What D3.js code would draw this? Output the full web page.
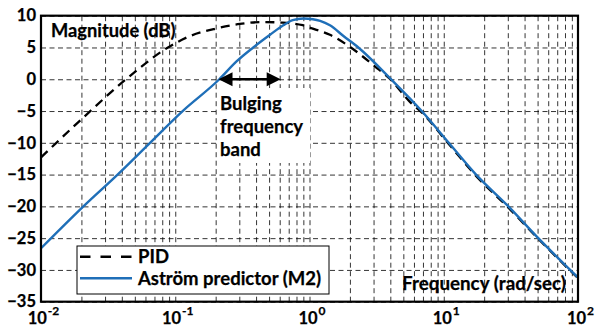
<!DOCTYPE html>
<html>
<head>
<meta charset="utf-8">
<script src="https://cdn.jsdelivr.net/npm/d3@7/dist/d3.min.js"></script>
<style>
  body { margin: 0; background: #fff; }
  svg { display: block; }
  text { font-family: Lato, "Open Sans", sans-serif; font-weight: bold; fill: #000; stroke: #000; stroke-width: 0.25px; }
</style>
</head>
<body>
<svg id="chart" width="600" height="327"></svg>
<script>
// axis ticks
const yTicks = [10, 5, 0, -5, -10, -15, -20, -25, -30, -35];
const xDecades = [0.01, 0.1, 1, 10, 100];
const xExponents = ['-2', '-1', '0', '1', '2'];

// PID (dashed)
const pidFreq = [0.01, 0.02, 0.043, 0.0883, 0.129, 0.204, 0.303, 0.45, 0.63, 0.89, 1.01, 1.42, 2.0, 3.08, 4.0, 5.62, 6.85, 10.9, 17.4, 30.3, 50.6, 100];
const pidMag  = [-12.3, -6.3, 0, 5, 6.8, 8.0, 8.7, 9.0, 8.9, 8.5, 8.1, 7.0, 5.1, 2.0, 0, -3.6, -5.2, -10.2, -15.2, -20.2, -25.1, -31.3];

// Astrom predictor (M2)
const m2Freq = [0.01, 0.0207, 0.0372, 0.0649, 0.1135, 0.213, 0.286, 0.381, 0.508, 0.638, 0.75, 0.9, 1.06, 1.2, 1.42, 1.79, 2.31, 4.05, 6.85, 10.9, 17.4, 30.3, 50.6, 100];
const m2Mag  = [-26.6, -20, -15, -10, -5, 0, 2.8, 5, 7, 8.5, 9.3, 9.55, 9.45, 9.2, 8.5, 6.8, 5, 0, -5, -10, -15, -20, -25, -31.2];

const legendLabels = ['PID', 'Aström predictor (M2)'];
const bandLines = ['Bulging', 'frequency', 'band'];
const bandRange = [0.21, 0.61]; // rad/sec, arrow at 0 dB

const svg = d3.select('#chart');
const pLeft = 41, pRight = 578, pTop = 15.7, pBottom = 301.7;

const x = d3.scaleLog().domain([0.01, 100]).range([pLeft, pRight]);
const y = d3.scaleLinear().domain([-35, 10]).range([pBottom, pTop]);

svg.append('rect').attr('width', 600).attr('height', 327).attr('fill', '#fff');

// grid
const grid = svg.append('g');
grid.append('g')
  .attr('transform', `translate(0,${pBottom})`)
  .call(d3.axisBottom(x).tickValues(x.ticks()).tickSize(-(pBottom - pTop)).tickFormat(''))
  .call(g => g.select('.domain').remove());
grid.append('g')
  .attr('transform', `translate(${pLeft},0)`)
  .call(d3.axisLeft(y).tickValues(yTicks).tickSize(-(pRight - pLeft)).tickFormat(''))
  .call(g => g.select('.domain').remove());
grid.selectAll('line')
  .attr('stroke', '#000')
  .attr('stroke-width', 0.8)
  .attr('stroke-dasharray', '5,3.5');

// annotation box behind text
svg.append('rect')
  .attr('x', 217).attr('y', 88)
  .attr('width', 93).attr('height', 75)
  .attr('fill', '#fff');

svg.selectAll('.band')
  .data(bandLines)
  .join('text')
  .attr('class', 'band')
  .attr('x', 220)
  .attr('y', (d, i) => 110 + i * 23)
  .style('font-size', '18.5px')
  .text(d => d);

// curves
const line = d3.line()
  .x(d => x(d[0]))
  .y(d => y(d[1]))
  .curve(d3.curveMonotoneX);

svg.append('path')
  .datum(pidFreq.map((f, i) => [f, pidMag[i]]))
  .attr('d', line)
  .attr('fill', 'none')
  .attr('stroke', '#000')
  .attr('stroke-width', 2.3)
  .attr('stroke-dasharray', '9,6');

svg.append('path')
  .datum(m2Freq.map((f, i) => [f, m2Mag[i]]))
  .attr('d', line)
  .attr('fill', 'none')
  .attr('stroke', '#1f6fb8')
  .attr('stroke-width', 2.4);

// double arrow
const ax0 = x(bandRange[0]), ax1 = x(bandRange[1]), ay = y(0);
svg.append('line')
  .attr('x1', ax0 + 10).attr('x2', ax1 - 10)
  .attr('y1', ay).attr('y2', ay)
  .attr('stroke', '#000').attr('stroke-width', 2.5);
svg.append('path')
  .attr('d', `M${ax0},${ay}L${ax0 + 14},${ay - 7}L${ax0 + 14},${ay + 7}Z M${ax1},${ay}L${ax1 - 14},${ay - 7}L${ax1 - 14},${ay + 7}Z`)
  .attr('fill', '#000');

// legend
const lg = svg.append('g');
lg.append('rect')
  .attr('x', 77).attr('y', 246)
  .attr('width', 252).attr('height', 48)
  .attr('fill', '#fff').attr('stroke', '#000').attr('stroke-width', 1);
legendLabels.forEach((lab, i) => {
  const ly = 256.7 + i * 21.6;
  lg.append('line')
    .attr('x1', 80).attr('x2', 132)
    .attr('y1', ly).attr('y2', ly)
    .attr('stroke', i === 0 ? '#000' : '#1f6fb8')
    .attr('stroke-width', 2.4)
    .attr('stroke-dasharray', i === 0 ? '10.5,10' : null);
  lg.append('text')
    .attr('x', 138).attr('y', ly + 6.3)
    .style('font-size', '18.5px')
    .text(lab);
});

// frame
svg.append('rect')
  .attr('x', pLeft).attr('y', pTop)
  .attr('width', pRight - pLeft).attr('height', pBottom - pTop)
  .attr('fill', 'none').attr('stroke', '#000').attr('stroke-width', 2.2);

// y tick labels
svg.append('g')
  .attr('transform', `translate(${pLeft},0)`)
  .call(d3.axisLeft(y).tickValues(yTicks).tickSize(0).tickPadding(5).tickFormat(d3.format('d')))
  .call(g => g.select('.domain').remove())
  .selectAll('text')
  .style('font-size', '16.5px')
  .attr('font-family', null);

// x tick labels (10^n)
const xl = svg.append('g')
  .attr('transform', `translate(0,${pBottom})`)
  .call(d3.axisBottom(x).tickValues(xDecades).tickSize(0).tickFormat(''))
  .call(g => g.select('.domain').remove());
xl.selectAll('.tick').each(function(d, i) {
  const t = d3.select(this).append('text')
    .attr('x', 2).attr('y', 22.5)
    .attr('text-anchor', 'middle')
    .style('font-size', '16.5px');
  t.append('tspan').text('10');
  t.append('tspan').attr('dy', -9.5).attr('dx', 1).style('font-size', '12px').text(xExponents[i]);
});

// axis annotations
svg.append('text').attr('x', 51).attr('y', 36.5).style('font-size', '18.3px').text('Magnitude (dB)');
svg.append('text').attr('x', 566).attr('y', 290).attr('text-anchor', 'end').style('font-size', '18.8px').text('Frequency (rad/sec)');
</script>
</body>
</html>
